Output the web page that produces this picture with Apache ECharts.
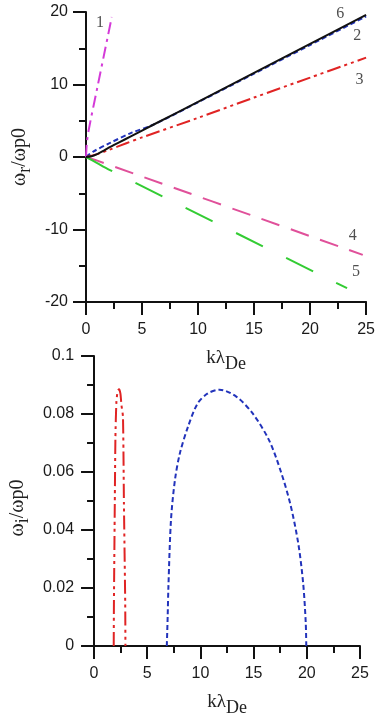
<!DOCTYPE html>
<html>
<head>
<meta charset="utf-8">
<script src="https://cdn.jsdelivr.net/npm/echarts@6/dist/echarts.min.js"></script>
<style>html,body{margin:0;padding:0;background:#fff}#c{width:378px;height:719px}</style>
</head>
<body>
<div id="c"></div>
<script>
// Top panel: real frequency curves [k*lambdaDe, omega_r/omega_p0]
var curve1 = [[0,0],[0.08,2],[0.25,3.8],[1,9.5],[2.3,19.3]];
var curve2 = [[0,0],[0.65,0.75],[2.1,1.9],[4,3.3],[6,4.45],[10,7.55],[15,11.5],[20,15.45],[25,19.4]];
var curve3 = [[0,0],[1,0.4],[2,0.95],[3.6,1.9],[5,2.7],[10,5.4],[15,8.2],[20,10.95],[25,13.7]];
var curve4 = [[0,0],[1,-0.5],[24.7,-13.5]];
var curve5 = [[0,0],[1,-0.85],[2,-1.7],[23.3,-18.1]];
var curve6 = [[0,0],[0.5,0.1],[1,0.4],[1.5,0.8],[2,1.25],[3,2.05],[4,2.85],[6,4.45],[10,7.6],[15,11.6],[20,15.6],[25,19.6]];
var curveLabels = [[1.25,18.5,'1'],[22.7,19.7,'6'],[24.2,16.7,'2'],[24.4,10.6,'3'],[23.8,-10.8,'4'],[24.1,-15.9,'5']];
// Bottom panel: growth rate [k*lambdaDe, omega_i/omega_p0]
var growthRed = [[1.85,0],[1.87,0.015],[1.95,0.049],[2.01,0.072],[2.1,0.084],[2.22,0.088],[2.35,0.0885],[2.48,0.087],[2.58,0.083],[2.72,0.079],[2.81,0.049],[2.93,0.015],[2.95,0]];
var growthBlue = [[6.84,0],[6.92,0.01],[6.99,0.0203],[7.23,0.0433],[7.6,0.0571],[8.06,0.0663],[8.82,0.0755],[9.73,0.0836],[10.65,0.087],[11.8,0.0884],[13.4,0.0859],[14.93,0.0801],[16.46,0.0709],[17.52,0.0606],[18.44,0.0491],[19.2,0.0353],[19.66,0.0215],[19.9,0.008],[19.95,0]];

var chart = echarts.init(document.getElementById('c'));
var labelFont = {fontFamily:'Liberation Sans', fontSize:16, color:'#1a1a1a'};
var serif = 'Liberation Serif';
function axisCommon() {
  return {
    axisLine:{show:true, onZero:false, lineStyle:{color:'#111', width:2}},
    axisTick:{show:true, length:13, lineStyle:{color:'#111', width:2}},
    minorTick:{show:true, splitNumber:2, length:7, lineStyle:{color:'#111', width:2}},
    splitLine:{show:false},
    minorSplitLine:{show:false}
  };
}
function xAxisDef(grid) {
  return Object.assign(axisCommon(), {
    type:'value', gridIndex:grid, min:0, max:25, interval:5,
    axisLabel:Object.assign({margin:20}, labelFont),
    name:'{a|kλ}{b|De}', nameLocation:'middle', nameGap:42,
    nameTextStyle:{rich:{
      a:{fontFamily:serif, fontSize:19, color:'#222'},
      b:{fontFamily:serif, fontSize:18, color:'#222', padding:[11,0,0,0]}
    }}
  });
}
var yTop = Object.assign(axisCommon(), {
  type:'value', gridIndex:0, min:-20, max:20, interval:10,
  axisLabel:Object.assign({margin:18}, labelFont),
  name:'{a|ω}{s|r}{a|/ωp0}', nameLocation:'middle', nameGap:52,
  nameTextStyle:{rich:{
    a:{fontFamily:serif, fontSize:20, color:'#222'},
    s:{fontFamily:serif, fontSize:18, color:'#222', padding:[10,0,0,0]}
  }}
});
var yBot = Object.assign(axisCommon(), {
  type:'value', gridIndex:1, min:0, max:0.1, interval:0.02,
  axisLabel:Object.assign({margin:20, formatter:function(v){return v===0?'0':String(+v.toFixed(2));}}, labelFont),
  name:'{a|ω}{s|i}{a|/ωp0}', nameLocation:'middle', nameGap:52,
  nameTextStyle:{padding:[0,14,0,0], rich:{
    a:{fontFamily:serif, fontSize:20, color:'#222'},
    s:{fontFamily:serif, fontSize:18, color:'#222', padding:[10,0,0,0]}
  }}
});

function line(data, color, dash, width, xi, yi, smooth, z) {
  return {type:'line', data:data, xAxisIndex:xi, yAxisIndex:yi, showSymbol:false, symbol:'none',
    smooth:smooth||false, lineStyle:{color:color, width:width, type:dash}, z:z||3};
}

chart.setOption({
  animation:false,
  backgroundColor:'#fff',
  grid:[
    {left:86, top:12, width:281, height:290, containLabel:false},
    {left:87, top:356, width:273, height:290, containLabel:false}
  ],
  xAxis:[xAxisDef(0), xAxisDef(1)],
  yAxis:[yTop, yBot],
  series:[
    line(curve2, '#2233bb', [5,3], 2, 0, 0, 0.3, 3),
    line(curve6, '#111111', 'solid', 2, 0, 0, 0.3, 4),
    line(curve3, '#e02424', [14,4,3,4,3,4], 2, 0, 0, 0.3, 3),
    line(curve4, '#e0509a', [19,12], 2, 0, 0, 0.3, 3),
    line(curve5, '#33cc33', [30,26], 2, 0, 0, 0.3, 3),
    line(curve1, '#d43ad8', [12,5,3,5], 2, 0, 0, 0.3, 3),
    {type:'scatter', xAxisIndex:0, yAxisIndex:0, symbolSize:0,
      data:curveLabels.map(function(d){return {value:[d[0],d[1]], name:d[2]};}),
      label:{show:true, position:'inside', formatter:'{b}', fontFamily:serif, fontSize:16, color:'#222'}, z:5},
    line(growthRed, '#e02424', [14,4,3,4,3,4], 2, 1, 1, 0.2, 3),
    line(growthBlue, '#2233bb', [5,3], 2, 1, 1, 0.3, 3)
  ]
});
</script>
</body>
</html>
